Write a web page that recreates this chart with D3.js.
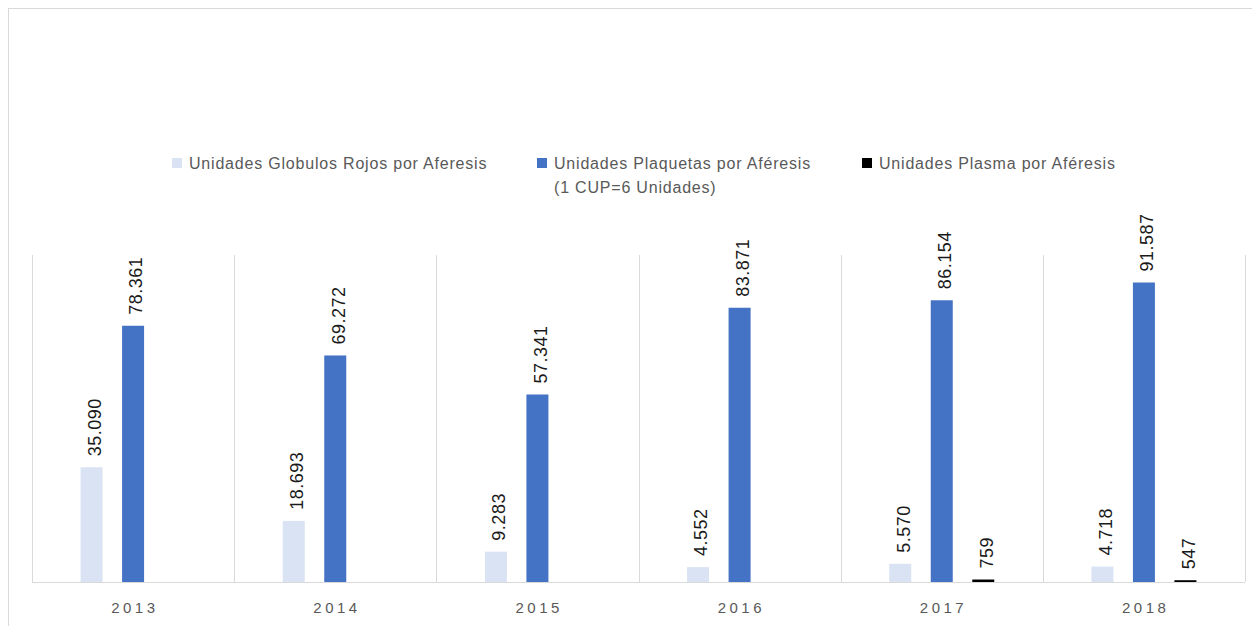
<!DOCTYPE html>
<html lang="es">
<head>
<meta charset="UTF-8">
<script src="https://d3js.org/d3.v7.min.js"></script>
<style>
  body { margin: 0; background: #fff; }
  svg { display: block; font-family: "Liberation Sans", "DejaVu Sans", sans-serif; }
</style>
</head>
<body>
<div id="chart"></div>
<script>
    // ---- data ----
    var years = ["2013", "2014", "2015", "2016", "2017", "2018"];
    var globulos = [35090, 18693, 9283, 4552, 5570, 4718];
    var plaquetas = [78361, 69272, 57341, 83871, 86154, 91587];
    var plasma = [null, null, null, null, 759, 547];
    var seriesNames = ["Unidades Globulos Rojos por Aferesis",
        "Unidades Plaquetas por Aféresis\n(1 CUP=6 Unidades)",
        "Unidades Plasma por Aféresis"];
    var seriesColors = ["#dae3f3", "#4472c4", "#000000"];

    var W = 1252, H = 626;
    var plot = { left: 32, right: 1245, top: 255, bottom: 582 };

    var svg = d3.select("#chart").append("svg")
        .attr("width", W)
        .attr("height", H);

    // chart frame
    svg.append("rect")
        .attr("x", 8.5).attr("y", 8.5)
        .attr("width", 1300).attr("height", 700)
        .attr("fill", "none")
        .attr("stroke", "#d9d9d9");

    var x0 = d3.scaleBand()
        .domain(years)
        .range([plot.left, plot.right]);

    var x1 = d3.scaleBand()
        .domain([0, 1, 2])
        .range([0, x0.bandwidth()])
        .paddingInner(0.47)
        .paddingOuter(1.17);

    var y = d3.scaleLinear()
        .domain([0, 100000])
        .range([plot.bottom, plot.top]);

    var es = d3.formatLocale({ decimal: ",", thousands: ".", grouping: [3], currency: ["$", ""] });
    var fmt = es.format(",d");

    // vertical separators
    var bounds = years.map(function (d) { return x0(d); }).concat([x0.range()[1]]);
    svg.append("g").selectAll("line")
        .data(bounds)
        .enter().append("line")
        .attr("x1", function (d) { return Math.round(d) + 0.5; })
        .attr("x2", function (d) { return Math.round(d) + 0.5; })
        .attr("y1", plot.top)
        .attr("y2", plot.bottom)
        .attr("stroke", "#d9d9d9");

    // rows of bar data
    var rows = [];
    years.forEach(function (yr, i) {
        [globulos[i], plaquetas[i], plasma[i]].forEach(function (v, s) {
            if (v != null) rows.push({ year: yr, s: s, v: v });
        });
    });

    svg.append("g").selectAll("rect")
        .data(rows)
        .enter().append("rect")
        .attr("x", function (d) { return x0(d.year) + x1(d.s); })
        .attr("y", function (d) { return y(d.v); })
        .attr("width", x1.bandwidth())
        .attr("height", function (d) { return y(0) - y(d.v); })
        .attr("fill", function (d) { return seriesColors[d.s]; });

    // value labels
    svg.append("g").selectAll("text")
        .data(rows)
        .enter().append("text")
        .attr("transform", function (d) {
            var cx = x0(d.year) + x1(d.s) + x1.bandwidth() / 2 + 3;
            return "translate(" + cx + "," + (y(d.v) - 11) + ") rotate(-90)";
        })
        .attr("dy", "0.35em")
        .attr("font-size", "18px")
        .attr("letter-spacing", "0.5px")
        .attr("fill", "#1a1a1a")
        .text(function (d) { return fmt(d.v); });

    // baseline
    svg.append("line")
        .attr("x1", plot.left).attr("x2", plot.right)
        .attr("y1", plot.bottom + 0.5).attr("y2", plot.bottom + 0.5)
        .attr("stroke", "#d9d9d9");

    // year labels
    svg.append("g").selectAll("text")
        .data(years)
        .enter().append("text")
        .attr("x", function (d) { return x0(d) + x0.bandwidth() / 2 + 1.75; })
        .attr("y", 613)
        .attr("text-anchor", "middle")
        .attr("font-size", "15px")
        .attr("letter-spacing", "3.5px")
        .attr("fill", "#595959")
        .text(function (d) { return d; });

    // legend
    var legendX = [172, 537, 862];
    var legend = svg.append("g").selectAll("g")
        .data(seriesNames)
        .enter().append("g")
        .attr("transform", function (d, i) { return "translate(" + legendX[i] + ",158)"; });
    legend.append("rect")
        .attr("width", 10).attr("height", 10)
        .attr("fill", function (d, i) { return seriesColors[i]; });
    legend.append("text")
        .attr("x", 17)
        .attr("y", 11)
        .attr("font-size", "16px")
        .attr("letter-spacing", "0.8px")
        .attr("fill", "#595959")
        .selectAll("tspan")
        .data(function (d) { return d.split("\n"); })
        .enter().append("tspan")
        .attr("x", 17)
        .attr("dy", function (d, i) { return i ? 24 : 0; })
        .text(function (d) { return d; });
</script>
</body>
</html>
